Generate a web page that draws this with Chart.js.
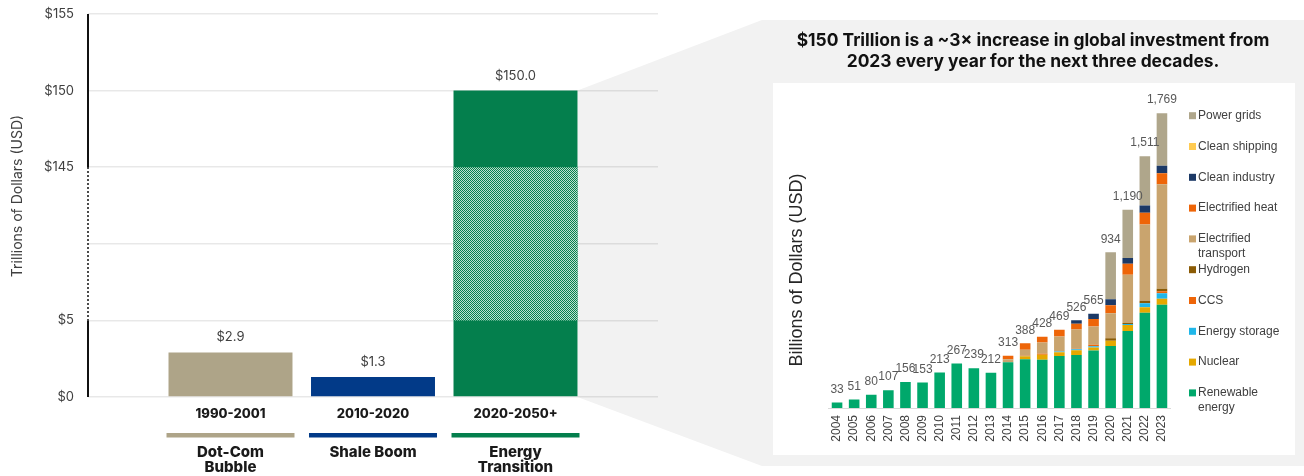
<!DOCTYPE html>
<html>
<head>
<meta charset="utf-8">
<title>Energy transition investment</title>
<script src="https://cdn.jsdelivr.net/npm/chart.js@4.4.0/dist/chart.umd.min.js"></script>
<style>
  html, body { margin: 0; padding: 0; background: #fff; }
  #wrap { position: relative; width: 1304px; height: 476px; overflow: hidden; }
  #left { position: absolute; left: 0; top: 0; }
  #right { position: absolute; left: 762px; top: 20px; }
</style>
</head>
<body>
<div id="wrap">
  <canvas id="left" width="1304" height="476"></canvas>
  <canvas id="right" width="542" height="446"></canvas>
</div>
<script>
// ---- cumulative investment per episode, trillions of USD ----
var periods = ['1990-2001', '2010-2020', '2020-2050+'];
var episodes = [['Dot-Com', 'Bubble'], ['Shale Boom'], ['Energy', 'Transition']];
var trillions = [2.9, 1.3, 150.0];
var periodColors = ['#aea488', '#023a88', '#047f4d'];

// value axis jumps from $5 straight to $145
var breakLow = 5;
var breakHigh = 145;
var gapUnits = 10;
var yTicks = [0, 5, 145, 150, 155];
var yMaxValue = 155;

// ---- annual energy transition investment, billions of USD ----
var years = ['2004', '2005', '2006', '2007', '2008', '2009', '2010', '2011', '2012', '2013',
             '2014', '2015', '2016', '2017', '2018', '2019', '2020', '2021', '2022', '2023'];
var renewable = [33, 51, 80, 107, 156, 153, 213, 267, 239, 212, 275, 292, 290, 312, 318, 345, 372, 462, 572, 619];
var nuclear   = [0, 0, 0, 0, 0, 0, 0, 0, 0, 0, 0, 18, 30, 22, 28, 18, 32, 36, 32, 36];
var storage   = [0, 0, 0, 0, 0, 0, 0, 0, 0, 0, 0, 2, 0, 5, 6, 8, 0, 6, 24, 34];
var ccs       = [0, 0, 0, 0, 0, 0, 0, 0, 0, 0, 0, 1, 5, 2, 3, 8, 0, 0, 0, 12];
var hydrogen  = [0, 0, 0, 0, 0, 0, 0, 0, 0, 0, 0, 0, 0, 0, 0, 0, 14, 6, 16, 14];
var transport = [0, 0, 0, 0, 0, 0, 0, 0, 0, 0, 18, 36, 68, 88, 116, 110, 150, 290, 457, 628];
var heat      = [0, 0, 0, 0, 0, 0, 0, 0, 0, 0, 20, 39, 35, 40, 35, 45, 48, 66, 70, 66];
var industry  = [0, 0, 0, 0, 0, 0, 0, 0, 0, 0, 0, 0, 0, 0, 20, 31, 36, 34, 44, 44];
var shipping  = [0, 0, 0, 0, 0, 0, 0, 0, 0, 0, 0, 0, 0, 0, 0, 0, 0, 0, 0, 0];
var grids     = [0, 0, 0, 0, 0, 0, 0, 0, 0, 0, 0, 0, 0, 0, 0, 0, 282, 290, 296, 316];

var sectorNames = ['Renewable energy', 'Nuclear', 'Energy storage', 'CCS', 'Hydrogen',
                   'Electrified transport', 'Electrified heat', 'Clean industry', 'Clean shipping', 'Power grids'];
var sectorSeries = [renewable, nuclear, storage, ccs, hydrogen, transport, heat, industry, shipping, grids];
var sectorColors = ['#00a86b', '#e5a800', '#20b7e9', '#ee6508', '#8b5b05',
                    '#c9a46e', '#ee6508', '#1c3966', '#ffcb52', '#afa68b'];

var heading = ['$150 Trillion is a ~3\u00d7 increase in global investment from',
               '2023 every year for the next three decades.'];

Chart.defaults.font.family = 'Inter, "Noto Sans", sans-serif';
Chart.defaults.color = '#404040';
Chart.defaults.animation = false;

function toAxis(v) {
  if (v <= breakLow) return v;
  if (v >= breakHigh) return v - breakHigh + breakLow + gapUnits;
  return breakLow + (v - breakLow) / (breakHigh - breakLow) * gapUnits;
}

function pad(arr, filler) {
  return [filler].concat(arr, [filler]);
}

// fine checkerboard used for the squeezed part of the big bar
function makeChecker(color, light) {
  var c = document.createElement('canvas');
  c.width = 2;
  c.height = 2;
  var g = c.getContext('2d');
  g.fillStyle = light;
  g.fillRect(0, 0, 2, 2);
  g.fillStyle = color;
  g.fillRect(0, 0, 1, 1);
  g.fillRect(1, 1, 1, 1);
  return g.createPattern(c, 'repeat');
}

var solidBars = pad(trillions.map(function (v) { return [0, toAxis(v)]; }), null);
var hatchBars = pad(trillions.map(function (v) {
  return v > breakHigh ? [toAxis(breakLow), toAxis(breakHigh)] : null;
}), null);

var leftDecor = {
  id: 'leftDecor',
  beforeDraw: function (chart) {
    var ctx = chart.ctx;
    var y = chart.scales.y;
    var bar = chart.getDatasetMeta(1).data[3].getProps(['x', 'width'], true);
    var edge = bar.x + bar.width / 2;
    // grey "zoom" funnel leading from the big bar to the yearly panel
    ctx.save();
    ctx.fillStyle = '#f2f2f2';
    ctx.beginPath();
    ctx.moveTo(edge, y.getPixelForValue(toAxis(trillions[2])));
    ctx.lineTo(762, 20);
    ctx.lineTo(1304, 20);
    ctx.lineTo(1304, 466);
    ctx.lineTo(762, 466);
    ctx.lineTo(edge, y.getPixelForValue(0));
    ctx.closePath();
    ctx.fill();
    ctx.restore();
  },
  afterDraw: function (chart) {
    var ctx = chart.ctx;
    var y = chart.scales.y;
    var area = chart.chartArea;
    var meta = chart.getDatasetMeta(1);
    var x0 = area.left;
    var yLow = y.getPixelForValue(toAxis(breakLow));
    var yHigh = y.getPixelForValue(toAxis(breakHigh));

    ctx.save();
    // value axis, dotted across the break
    ctx.strokeStyle = '#111';
    ctx.lineWidth = 2;
    ctx.beginPath();
    ctx.moveTo(x0, area.top);
    ctx.lineTo(x0, yHigh);
    ctx.moveTo(x0, yLow);
    ctx.lineTo(x0, area.bottom);
    ctx.stroke();
    ctx.setLineDash([1.5, 2.5]);
    ctx.beginPath();
    ctx.moveTo(x0, yHigh);
    ctx.lineTo(x0, yLow);
    ctx.stroke();
    ctx.setLineDash([]);

    // value labels
    ctx.font = '13px Inter';
    ctx.fillStyle = '#404040';
    ctx.textAlign = 'center';
    ctx.textBaseline = 'middle';
    trillions.forEach(function (v, i) {
      var b = meta.data[i + 1].getProps(['x', 'y', 'width'], true);
      ctx.fillText('$' + v.toFixed(1), b.x, b.y - 15);
    });

    // coloured rule and episode name under each period
    trillions.forEach(function (v, i) {
      var b = meta.data[i + 1].getProps(['x', 'width'], true);
      ctx.fillStyle = periodColors[i];
      ctx.fillRect(b.x - b.width / 2 - 2, area.bottom + 36, b.width + 4, 4.5);
      ctx.fillStyle = '#1a1a1a';
      ctx.font = '800 15px Inter';
      episodes[i].forEach(function (line, j) {
        ctx.fillText(line, b.x, area.bottom + 55 + j * 15);
      });
    });

    // axis title
    ctx.translate(17.5, 196);
    ctx.rotate(-Math.PI / 2);
    ctx.font = '14px Inter';
    ctx.fillStyle = '#404040';
    ctx.fillText('Trillions of Dollars (USD)', 0, 0);
    ctx.restore();
  }
};

var leftChart = new Chart(document.getElementById('left'), {
  type: 'bar',
  data: {
    labels: pad(periods, ''),
    datasets: [{
      label: 'Beyond break',
      data: hatchBars,
      backgroundColor: makeChecker(periodColors[2], '#bfe0cf'),
      order: 0,
      grouped: false,
      barPercentage: 0.87,
      categoryPercentage: 1
    }, {
      label: 'Trillions of Dollars',
      data: solidBars,
      backgroundColor: pad(periodColors, '#000'),
      order: 1,
      grouped: false,
      barPercentage: 0.87,
      categoryPercentage: 1
    }]
  },
  options: {
    responsive: false,
    layout: { padding: { top: 14, right: 646, left: 0, bottom: 0 } },
    plugins: { legend: { display: false }, tooltip: { enabled: false } },
    scales: {
      x: {
        offset: false,
        grid: { display: false, drawTicks: false },
        border: { display: false },
        ticks: { padding: 9, autoSkip: false, maxRotation: 0, color: '#1a1a1a', font: { size: 13, weight: 800 } },
        afterFit: function (s) { s.height = 79; s.paddingLeft = 0; s.paddingRight = 0; }
      },
      y: {
        min: 0,
        max: toAxis(yMaxValue),
        grid: { color: 'rgba(0,0,0,0.09)', lineWidth: 1.5, drawTicks: false },
        border: { display: false },
        ticks: {
          stepSize: 5,
          padding: 14,
          color: '#404040',
          font: { size: 13 },
          callback: function (value) {
            for (var i = 0; i < yTicks.length; i++) {
              if (Math.abs(toAxis(yTicks[i]) - value) < 1e-6) return '$' + yTicks[i];
            }
            return '';
          }
        },
        afterFit: function (s) { s.width = 88; s.paddingTop = 0; s.paddingBottom = 0; }
      }
    }
  },
  plugins: [leftDecor]
});

function wrapWords(ctx, text, maxWidth) {
  var words = text.split(' ');
  var lines = [];
  var line = '';
  words.forEach(function (w) {
    var test = line ? line + ' ' + w : w;
    if (line && ctx.measureText(test).width > maxWidth) {
      lines.push(line);
      line = w;
    } else {
      line = test;
    }
  });
  lines.push(line);
  return lines;
}

var rightDecor = {
  id: 'rightDecor',
  beforeDraw: function (chart) {
    var ctx = chart.ctx;
    ctx.save();
    ctx.fillStyle = '#ffffff';
    ctx.fillRect(11, 63, 522, 372);

    ctx.fillStyle = '#111';
    ctx.font = 'bold 17.4px Inter';
    ctx.textAlign = 'center';
    ctx.textBaseline = 'middle';
    heading.forEach(function (t, i) {
      ctx.fillText(t, 271, 21 + i * 21);
    });

    ctx.translate(35, 250);
    ctx.rotate(-Math.PI / 2);
    ctx.font = '18px "Liberation Sans", Arial, sans-serif';
    ctx.fillStyle = '#262626';
    ctx.fillText('Billions of Dollars (USD)', 0, 0);
    ctx.restore();
  },
  afterDraw: function (chart) {
    var ctx = chart.ctx;
    var x = chart.scales.x;
    var y = chart.scales.y;
    ctx.save();
    // yearly totals above each stack
    ctx.font = '12px "Liberation Sans", Arial, sans-serif';
    ctx.fillStyle = '#595959';
    ctx.textAlign = 'center';
    ctx.textBaseline = 'middle';
    years.forEach(function (yr, i) {
      var total = 0;
      sectorSeries.forEach(function (s) { total += s[i]; });
      ctx.fillText(total.toLocaleString('en-US'), x.getPixelForValue(i), y.getPixelForValue(total) - 13);
    });

    // legend, top item is the top of the stack
    ctx.textAlign = 'left';
    for (var k = sectorNames.length - 1, row = 0; k >= 0; k--, row++) {
      var cy = 95.7 + row * 30.8;
      ctx.fillStyle = sectorColors[k];
      ctx.fillRect(427, cy - 3.5, 7, 7);
      ctx.fillStyle = '#404040';
      wrapWords(ctx, sectorNames[k], 90).forEach(function (line, j) {
        ctx.fillText(line, 436, cy + j * 14.5);
      });
    }
    ctx.restore();
  }
};

var rightChart = new Chart(document.getElementById('right'), {
  type: 'bar',
  data: {
    labels: years,
    datasets: sectorSeries.map(function (s, i) {
      return {
        label: sectorNames[i],
        data: s,
        backgroundColor: sectorColors[i],
        barPercentage: 0.62,
        categoryPercentage: 1
      };
    })
  },
  options: {
    responsive: false,
    layout: { padding: { top: 88, left: 66.5, right: 133.5, bottom: 0 } },
    plugins: { legend: { display: false }, tooltip: { enabled: false } },
    scales: {
      x: {
        stacked: true,
        grid: { display: false, drawTicks: false },
        border: { display: true, color: '#d9d9d9', width: 1 },
        ticks: {
          padding: 7,
          autoSkip: false,
          minRotation: 90,
          maxRotation: 90,
          color: '#404040',
          font: { size: 12, family: '"Liberation Sans", Arial, sans-serif' }
        },
        afterFit: function (s) { s.height = 58; }
      },
      y: {
        stacked: true,
        display: false,
        min: 0,
        max: 1800
      }
    }
  },
  plugins: [rightDecor]
});
</script>
</body>
</html>
